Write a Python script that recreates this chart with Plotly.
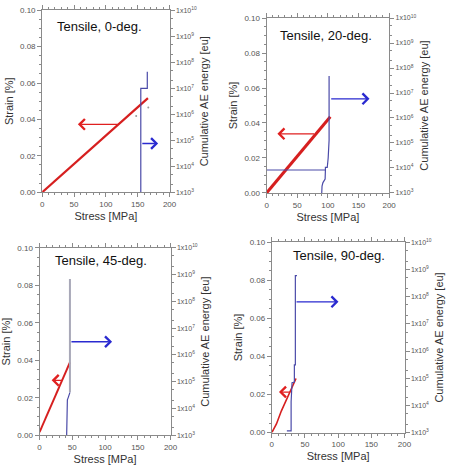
import plotly.graph_objects as go

W, H = 451, 466

# ---------------- data ----------------
titles = ["Tensile, 0-deg.", "Tensile, 20-deg.", "Tensile, 45-deg.", "Tensile, 90-deg."]

# stress [MPa] / strain [%]
p1_stress = [0, 166]
p1_strain = [0, 0.0517]
p2_stress = [0, 104]
p2_strain = [0, 0.0436]
p3_stress = [0, 46.4]
p3_strain = [0.0016, 0.0389]
p4_stress = [0, 7, 14.3, 20, 26.6, 36.5]
p4_strain = [0, 0.0045, 0.0113, 0.0155, 0.0208, 0.0284]

# cumulative AE energy [eu] vs stress
p1_ae_stress = [154.8, 154.8, 165, 165]
p1_ae_energy = [1e3, 9.9e6, 9.9e6, 4.3e7]
p1_dot_stress = [147.6, 166.6]
p1_dot_energy = [8.5e5, 1.8e6]

p2_ae_stress = [90, 90.5, 92, 94, 95.5, 96, 0, 96, 96, 99, 100.5, 101, 102, 102]
p2_ae_energy = [1e3, 1.9e3, 2.6e3, 3.4e3, 3.6e3, 8.3e3, 8.3e3, 8.3e3, 1.05e4, 1.05e4,
                2.5e4, 5.6e4, 1.3e5, 4.8e7]

p3_ae_stress = [41.4, 41.4, 42.5, 43.9, 45.9, 46.4]
p3_ae_energy = [1e3, 1.66e4, 2.1e4, 2.6e4, 3.6e4, 4.0e4]
p3_top_stress = [46.4, 46.4]
p3_top_energy = [4.0e4, 6.9e8]

p4_ae_stress = [22.7, 28.1, 29.1, 29.1, 30.5, 33, 34, 34, 35.5, 35.5, 37.9]
p4_ae_energy = [1.15e3, 1.15e3, 1.15e3, 1.35e4, 6.8e4, 7.1e4, 7.1e4, 3.1e5, 3.1e5, 5.9e8, 5.9e8]

# arrows: (head_x, tail_x, y strain)
red_arrows = [(56, 120.8, 0.0373), (17.6, 80, 0.0338), (18.5, 37.4, 0.0293), (10.8, 30, 0.0213)]
blue_arrows = [(182, 154.8, 0.0268), (168, 103, 0.0538), (110.7, 46.4, 0.0499), (100.5, 35, 0.0687)]

x_ticks = [0, 50, 100, 150, 200]
y_ticks = [0.0, 0.02, 0.04, 0.06, 0.08, 0.10]
y_ticklabels = ["0.00", "0.02", "0.04", "0.06", "0.08", "0.10"]
ae_exponents = [3, 4, 5, 6, 7, 8, 9, 10]

# ---------------- layout geometry (pixels) ----------------
frames = [  # left, right, top, bottom in pixels
    (41, 171, 6.3, 192),
    (270, 395, 14.3, 192.7),
    (38.3, 172, 248.7, 439.7),
    (275.3, 410.7, 243, 437),
]
title_pos = [(99, 22.7), (331, 32), (101, 262), (344, 256)]


def px(x):
    return x / W


def py(y):
    return 1 - y / H


RED = "#d61f1f"
BLUE = "#2a2ad0"
STEP = "#4a4aa8"
AXC = "#8a8a8a"
TXT = "#555555"
FONT = "Liberation Sans, Arial, sans-serif"

fig = go.Figure()

reds = [(p1_stress, p1_strain, 2.2), (p2_stress, p2_strain, 3), (p3_stress, p3_strain, 2),
        (p4_stress, p4_strain, 1.6)]
blues = [(p1_ae_stress, p1_ae_energy), (p2_ae_stress, p2_ae_energy),
         (p3_ae_stress, p3_ae_energy), (p4_ae_stress, p4_ae_energy)]

annotations = []
layout = {}
for k in range(4):
    xa = "x" if k == 0 else f"x{k+1}"
    yl = "y" if k == 0 else f"y{2*k+1}"
    yr = f"y{2*k+2}"
    L, R, T, B = frames[k]

    # AE step lines on right axis
    bx, by = blues[k]
    fig.add_trace(go.Scatter(x=bx, y=by, mode="lines", xaxis=xa, yaxis=yr,
                             line=dict(color=STEP, width=1.2), showlegend=False))
    if k == 0:
        fig.add_trace(go.Scatter(x=p1_dot_stress, y=p1_dot_energy, mode="markers", xaxis=xa, yaxis=yr,
                                 marker=dict(color="#999999", size=2), showlegend=False))
    if k == 2:
        fig.add_trace(go.Scatter(x=p3_top_stress, y=p3_top_energy, mode="lines", xaxis=xa, yaxis=yr,
                                 line=dict(color="#a8a8b8", width=2), showlegend=False))

    # stress-strain
    sx, sy, lw = reds[k]
    fig.add_trace(go.Scatter(x=sx, y=sy, mode="lines", xaxis=xa, yaxis=yl,
                             line=dict(color=RED, width=lw), showlegend=False))

    xkey = "xaxis" if k == 0 else f"xaxis{k+1}"
    ylkey = "yaxis" if k == 0 else f"yaxis{2*k+1}"
    yrkey = f"yaxis{2*k+2}"

    layout[xkey] = dict(
        domain=[px(L), px(R)], anchor=yl, range=[0, 200],
        tickvals=x_ticks, ticks="outside", ticklen=4, tickcolor=AXC,
        showline=True, linecolor=AXC, linewidth=1, mirror="ticks",
        showgrid=False, zeroline=False,
        tickfont=dict(size=8, color=TXT, family=FONT),
        title=dict(text="Stress [MPa]", font=dict(size=11, color="#333", family=FONT), standoff=4),
        minor=dict(dtick=10, ticks="outside", ticklen=2, tickcolor=AXC),
    )
    layout[ylkey] = dict(
        domain=[py(B), py(T)], anchor=xa, range=[0, 0.1],
        tickvals=y_ticks, ticktext=y_ticklabels, ticks="outside", ticklen=4, tickcolor=AXC,
        showline=True, linecolor=AXC, linewidth=1,
        showgrid=False, zeroline=False,
        tickfont=dict(size=8, color=TXT, family=FONT),
        title=dict(text="Strain [%]", font=dict(size=11, color="#333", family=FONT), standoff=4),
        minor=dict(dtick=0.005, ticks="outside", ticklen=2, tickcolor=AXC),
    )
    layout[yrkey] = dict(
        domain=[py(B), py(T)], anchor=xa, overlaying=yl, side="right",
        type="log", range=[3, 10],
        tickmode="array", tickvals=[10 ** e for e in ae_exponents],
        ticktext=[f"1x10<sup>{e}</sup>" for e in ae_exponents],
        ticks="outside", ticklen=4, tickcolor=AXC,
        showline=True, linecolor=AXC, linewidth=1,
        showgrid=False, zeroline=False,
        tickfont=dict(size=7, color=TXT, family=FONT),
        title=dict(text="Cumulative AE energy [eu]", font=dict(size=11, color="#333", family=FONT), standoff=4),
        minor=dict(ticks="outside", ticklen=2, tickcolor=AXC),
    )

    # arrows
    hx, tx, yy = red_arrows[k]
    annotations.append(dict(x=hx, y=yy, ax=tx, ay=yy, xref=xa, yref=yl, axref=xa, ayref=yl,
                            showarrow=True, arrowhead=4, arrowsize=1.6, arrowwidth=1.3,
                            arrowcolor="#e02020", text=""))
    hx, tx, yy = blue_arrows[k]
    annotations.append(dict(x=hx, y=yy, ax=tx, ay=yy, xref=xa, yref=yl, axref=xa, ayref=yl,
                            showarrow=True, arrowhead=4, arrowsize=1.6, arrowwidth=1.3,
                            arrowcolor=BLUE, text=""))
    # panel title
    tx_, ty_ = title_pos[k]
    annotations.append(dict(x=px(tx_), y=py(ty_), xref="paper", yref="paper", showarrow=False,
                            text=titles[k], font=dict(size=13, color="#111", family=FONT),
                            xanchor="center", yanchor="middle"))

fig.update_layout(
    width=W, height=H, margin=dict(l=0, r=0, t=0, b=0),
    paper_bgcolor="white", plot_bgcolor="white",
    annotations=annotations, **layout,
)

fig.write_html("out.html")
